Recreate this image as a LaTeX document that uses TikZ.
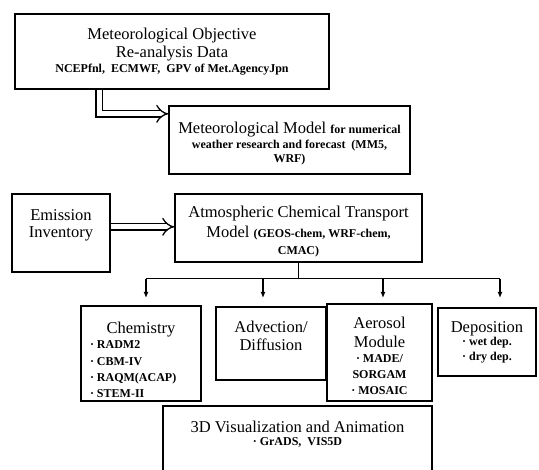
\documentclass[tikz,border=0pt]{standalone}
\usepackage{fontspec}
\setmainfont{Liberation Serif}
\usetikzlibrary{arrows.meta}
\newcommand{\captxt}{\fontsize{16.5}{17}\selectfont}
\newcommand{\subtxt}{\fontsize{12}{14}\selectfont\bfseries}
\newcommand{\itm}{\textperiodcentered\ }

\begin{document}
\begin{tikzpicture}[x=1pt,y=-1pt,
  modbox/.style={draw,line width=1.6pt,align=center,inner xsep=2pt,inner ysep=0pt,anchor=north},
  lineskp/.style={font={\fontsize{16.5}{#1}\selectfont}},
  dblarrow/.style={double,double distance=5pt,line width=1.3pt,-{Implies[scale=1.5]}},
  busline/.style={line width=1.4pt},
  busarrow/.style={line width=1.4pt,-{Latex[length=6pt,width=5pt]}}]
  \useasboundingbox (0,0) rectangle (539,470);

  % input data and models
  \node[modbox,lineskp=17.5pt,minimum width=314pt,text height=58.7pt,text depth=16.3pt] (metdata) at (172,13)
    {Meteorological Objective\\ Re-analysis Data\\[-2.5pt]
     \subtxt NCEPfnl,~~ECMWF,~~GPV of Met.AgencyJpn};
  \node[modbox,lineskp=15pt,minimum width=241pt,text height=56.7pt,text depth=11.3pt] (metmodel) at (289.5,105)
    {Meteorological Model {\subtxt for numerical}\\
     \subtxt weather research and forecast~~(MM5,\\[-1.3pt] \subtxt WRF)};
  \node[modbox,lineskp=17.7pt,minimum width=98pt,text height=44pt,text depth=34pt] (emission) at (61,193)
    {Emission\\ Inventory};
  \node[modbox,lineskp=17.3pt,minimum width=247pt,text height=61pt,text depth=7pt] (actm) at (298.5,193)
    {Atmospheric Chemical Transport\\[2.4pt]
     Model {\subtxt (GEOS-chem, WRF-chem,}\\ \subtxt CMAC)};

  % modules
  \node[modbox,lineskp=16.7pt,minimum width=120pt,text height=91.7pt,text depth=3.3pt] (chemistry) at (141,305)
    {Chemistry\\[-1.7pt]
     \subtxt\makebox[102pt][l]{\itm RADM2}\\
     \subtxt\makebox[102pt][l]{\itm CBM-IV}\\
     \subtxt\makebox[102pt][l]{\itm RAQM(ACAP)}\\[-1pt]
     \subtxt\makebox[102pt][l]{\itm STEM-II}};
  \node[modbox,lineskp=18.3pt,minimum width=110pt,text height=44pt,text depth=29pt] (advection) at (271,306)
    {Advection/\\ Diffusion};
  \node[modbox,lineskp=16pt,minimum width=105pt,text height=91pt,text depth=6pt] (aerosol) at (379.5,303)
    {Aerosol\\[2.4pt] Module\\[-1pt] \subtxt \itm MADE/\\[0.6pt]
     \subtxt SORGAM\\ \subtxt \itm MOSAIC};
  \node[modbox,lineskp=14pt,minimum width=98pt,text height=53pt,text depth=15pt] (deposition) at (487,307)
    {Deposition\\[-0.7pt] \subtxt \itm wet dep.\\[1pt] \subtxt \itm dry dep.};
  \node[modbox,lineskp=13.3pt,minimum width=269pt,text height=40pt,text depth=42pt] (visual) at (297.5,405)
    {3D Visualization and Animation\\ \subtxt \itm GrADS,~~VIS5D};

  % connectors
  \draw[dblarrow] ([xshift=-73pt]metdata.south) |- ([yshift=26pt]metmodel.west);
  \draw[dblarrow] ([yshift=6pt]emission.east) -- ([yshift=6pt]emission.east -| actm.west);

  \coordinate (bus) at ([yshift=-16pt]actm.south);
  \draw[busline] (actm.south) -- (bus);
  \draw[busline] ([xshift=5pt]chemistry.north |- bus) -- ([xshift=13pt]deposition.north |- bus);
  \foreach \mod/\dx/\gap in {chemistry/5/7, advection/-8/8, aerosol/3.5/5, deposition/13/9}{
    \draw[busarrow] ([xshift=\dx pt]\mod.north |- bus) -- ([xshift=\dx pt,yshift=\gap pt]\mod.north);
  }

\end{tikzpicture}
\end{document}
